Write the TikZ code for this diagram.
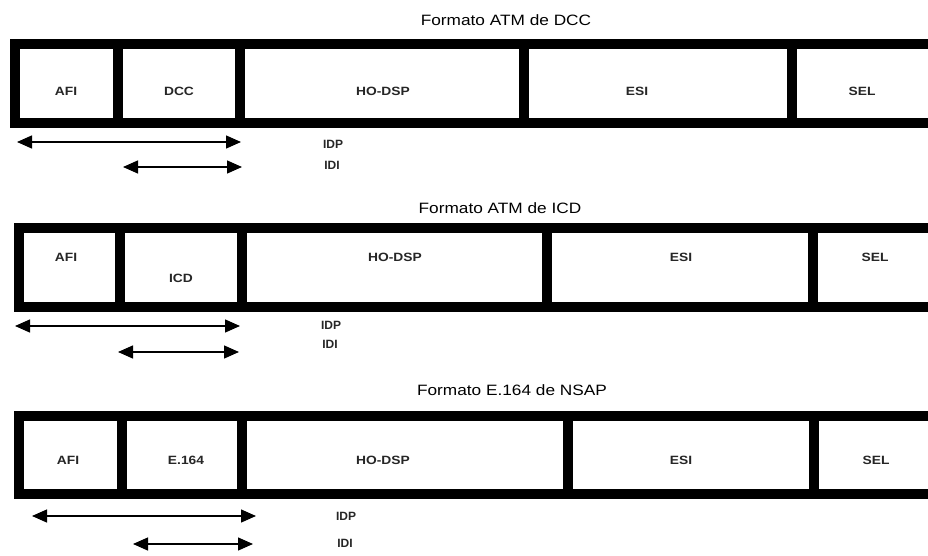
\documentclass[tikz,border=0pt]{standalone}
\usepackage{fontspec}
\setmainfont{Liberation Sans}
\usetikzlibrary{arrows.meta}
\tikzset{
  frame/.style={line width=10pt, line join=miter},
  divider/.style={line width=10pt},
  title/.style={font=\fontsize{15}{18}\selectfont, xscale=1.15, inner sep=0pt},
  cell/.style={font=\fontsize{12}{14}\selectfont\bfseries, xscale=1.15, inner sep=0pt, text=black!85},
  span/.style={line width=1.3pt, {Triangle[length=15pt,width=13pt]}-{Triangle[length=15pt,width=13pt]}},
  tag/.style={font=\fontsize{12}{14}\selectfont\bfseries, inner sep=0pt, text=black!85}
}
\begin{document}
\begin{tikzpicture}[x=1pt,y=-1pt]
\useasboundingbox (0,0) rectangle (928,556);
\fill[white] (0,0) rectangle (928,556);
\begin{scope}
\clip (0,0) rectangle (928,556);
% ---------- Row 1 ----------
\node[title] (t1) at (506,20) {Formato ATM de DCC};
\draw[frame] (15,44) rectangle (945,123);
\draw[divider] (118,44) -- (118,123);
\draw[divider] (239.5,44) -- (239.5,123);
\draw[divider] (524,44) -- (524,123);
\draw[divider] (791.5,44) -- (791.5,123);
\node[cell] (afi1) at (66,91) {AFI};
\node[cell] (dcc1) at (179,91) {DCC};
\node[cell] (ho1) at (383,91) {HO-DSP};
\node[cell] (esi1) at (637,91) {ESI};
\node[cell] (sel1) at (862,91) {SEL};
\coordinate (a1s) at (17,142);
\coordinate (a1e) at (241,142);
\coordinate (b1s) at (123,167);
\coordinate (b1e) at (242,167);
\draw[span] (a1s) -- (a1e);
\draw[span] (b1s) -- (b1e);
\node[tag] (idp1) at (333,144) {IDP};
\node[tag] (idi1) at (332,165) {IDI};
% ---------- Row 2 ----------
\node[title] (t2) at (500,208) {Formato ATM de ICD};
\draw[frame] (19,227.5) rectangle (945,307);
\draw[divider] (120,227.5) -- (120,307);
\draw[divider] (241.5,227.5) -- (241.5,307);
\draw[divider] (546.5,227.5) -- (546.5,307);
\draw[divider] (813,227.5) -- (813,307);
\node[cell] (afi2) at (66,257) {AFI};
\node[cell] (icd2) at (181,278) {ICD};
\node[cell] (ho2) at (395,257) {HO-DSP};
\node[cell] (esi2) at (681,257) {ESI};
\node[cell] (sel2) at (875,257) {SEL};
\coordinate (a2s) at (15,326);
\coordinate (a2e) at (240,326);
\coordinate (b2s) at (118,352);
\coordinate (b2e) at (239,352);
\draw[span] (a2s) -- (a2e);
\draw[span] (b2s) -- (b2e);
\node[tag] (idp2) at (331,325) {IDP};
\node[tag] (idi2) at (330,344) {IDI};
% ---------- Row 3 ----------
\node[title] (t3) at (512,390) {Formato E.164 de NSAP};
\draw[frame] (18.5,416) rectangle (945,494);
\draw[divider] (121.5,416) -- (121.5,494);
\draw[divider] (242,416) -- (242,494);
\draw[divider] (568,416) -- (568,494);
\draw[divider] (814,416) -- (814,494);
\node[cell] (afi3) at (68,460) {AFI};
\node[cell] (e3) at (186,460) {E.164};
\node[cell] (ho3) at (383,460) {HO-DSP};
\node[cell] (esi3) at (681,460) {ESI};
\node[cell] (sel3) at (876,460) {SEL};
\coordinate (a3s) at (32,516);
\coordinate (a3e) at (256,516);
\coordinate (b3s) at (133,544);
\coordinate (b3e) at (253,544);
\draw[span] (a3s) -- (a3e);
\draw[span] (b3s) -- (b3e);
\node[tag] (idp3) at (346,516) {IDP};
\node[tag] (idi3) at (345,543) {IDI};
\end{scope}
\end{tikzpicture}
\end{document}
